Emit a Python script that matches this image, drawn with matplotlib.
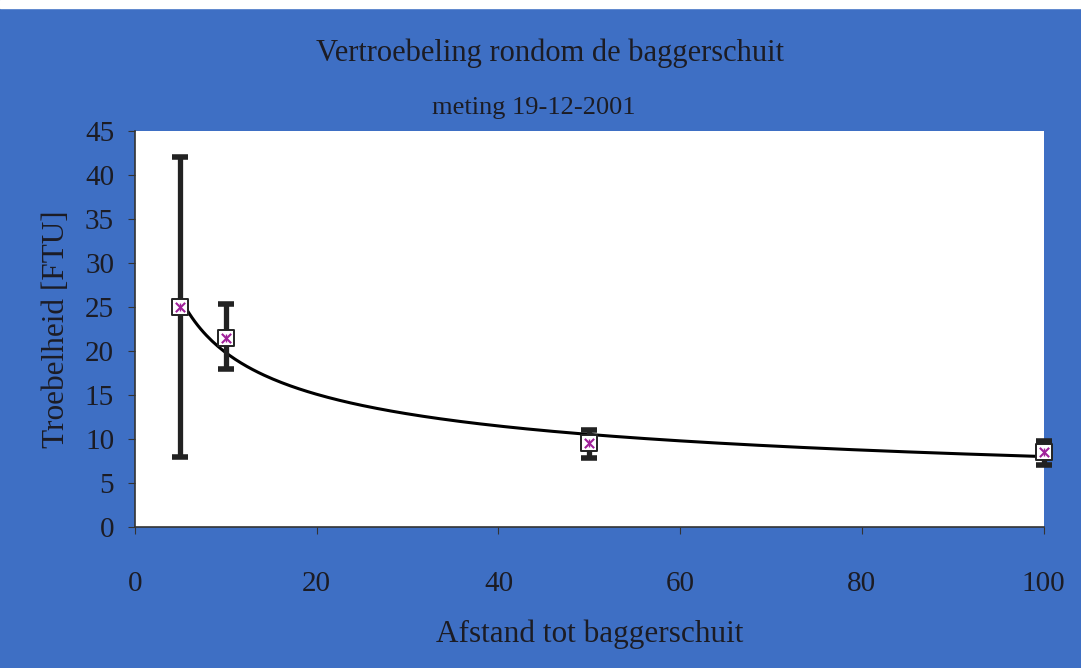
import numpy as np
import matplotlib.pyplot as plt

afstand = [5, 10, 50, 100]
troebelheid = [25.0, 21.5, 9.5, 8.5]
err_laag = [8.0, 18.0, 7.8, 7.0]
err_hoog = [42.0, 25.3, 11.0, 9.8]

x_ticks = [0, 20, 40, 60, 80, 100]
y_ticks = [0, 5, 10, 15, 20, 25, 30, 35, 40, 45]

blauw = '#3e6fc4'
tekst = '#1c1c24'
plt.rcParams['font.family'] = ['Liberation Serif', 'DejaVu Serif']

fig = plt.figure(figsize=(10.81, 6.68), dpi=100, facecolor=blauw)
fig.patches.append(plt.Rectangle((0, 0.988), 1, 0.012, transform=fig.transFigure,
                                 color='white', zorder=0))
ax = fig.add_axes([0.1249, 0.211, 0.8405, 0.593])
ax.set_facecolor('white')

# trendlijn (machtsfunctie) uit de meetpunten
b, ln_a = np.polyfit(np.log(afstand), np.log(troebelheid), 1)
xs = np.linspace(afstand[0], afstand[-1], 300)
ax.plot(xs, np.exp(ln_a) * xs ** b, color='black', lw=2.2, zorder=2)

y = np.array(troebelheid)
yerr = [y - np.array(err_laag), np.array(err_hoog) - y]
eb = ax.errorbar(afstand, troebelheid, yerr=yerr, fmt='none', ecolor='#222222',
                 elinewidth=3.8, capsize=6, capthick=4, zorder=3)
for art in eb.lines[1] + eb.lines[2]:
    art.set_clip_on(False)
ax.scatter(afstand, troebelheid, marker='s', s=120, facecolor='white',
           edgecolor='#222222', linewidth=1.4, zorder=4, clip_on=False)
ax.scatter(afstand, troebelheid, marker='x', s=45, color='#a0209a',
           linewidth=1.5, zorder=5, clip_on=False)
ax.scatter(afstand, troebelheid, marker='|', s=30, color='#a0209a',
           linewidth=1.0, zorder=5, clip_on=False)

ax.set_xlim(0, 100)
ax.set_ylim(0, 45)
ax.set_xticks(x_ticks)
ax.set_yticks(y_ticks)
for s in ['top', 'right']:
    ax.spines[s].set_visible(False)
for s in ['left', 'bottom']:
    ax.spines[s].set_color('#333333')
    ax.spines[s].set_linewidth(1.2)
ax.tick_params(axis='x', labelsize=21, pad=27, length=5, colors='#333333',
               labelcolor=tekst)
ax.tick_params(axis='y', labelsize=21, pad=10, length=5, colors='#333333',
               labelcolor=tekst)

ax.set_ylabel('Troebelheid [FTU]', fontsize=22.5, color=tekst, labelpad=10)
ax.set_xlabel('Afstand tot baggerschuit', fontsize=22.5, color=tekst, labelpad=16)
fig.text(0.509, 0.921, 'Vertroebeling rondom de baggerschuit', ha='center',
         va='center', fontsize=22, color=tekst)
fig.text(0.494, 0.838, 'meting 19-12-2001', ha='center', va='center',
         fontsize=19, color=tekst)

fig.savefig('out.png', dpi=100, facecolor=fig.get_facecolor())
